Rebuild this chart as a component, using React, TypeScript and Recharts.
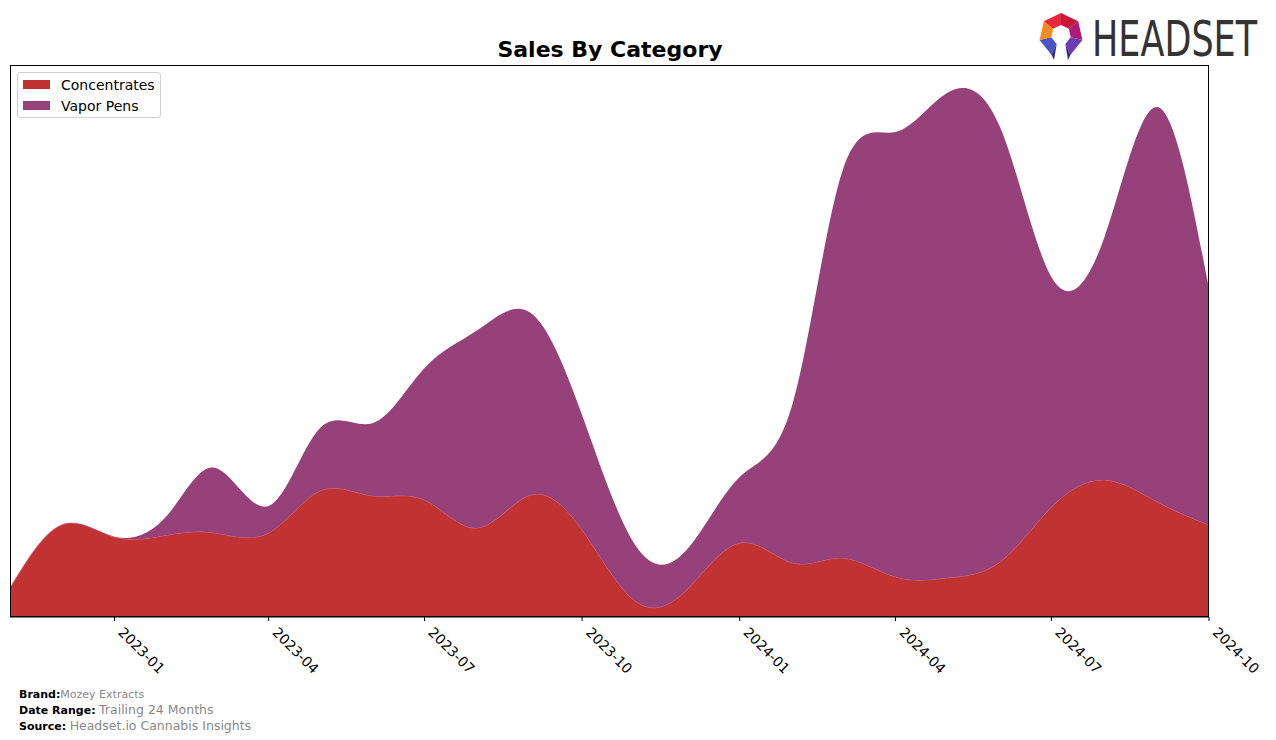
import React from 'react';
import { AreaChart, Area, XAxis, YAxis, Legend } from 'recharts';

const months = [
  '2022-11', '2022-12', '2023-01', '2023-02', '2023-03', '2023-04',
  '2023-05', '2023-06', '2023-07', '2023-08', '2023-09', '2023-10',
  '2023-11', '2023-12', '2024-01', '2024-02', '2024-03', '2024-04',
  '2024-05', '2024-06', '2024-07', '2024-08', '2024-09', '2024-10',
];

const concentrates = [
  7250, 23000, 20000, 20500, 21000, 21000,
  31500, 30250, 29250, 22250, 30500, 21750,
  4000, 6750, 18500, 13500, 14750, 10000,
  9750, 13750, 27500, 34250, 28750, 23000,
];

const vaporPens = [
  0, 0, 0, 5000, 16250, 6750,
  15750, 18250, 33000, 49500, 45500, 28750,
  14000, 10000, 16500, 40000, 96750, 111250,
  121250, 108750, 57500, 60750, 98750, 59000,
];

const tickLabels = ['2023-01', '2023-04', '2023-07', '2023-10', '2024-01', '2024-04', '2024-07', '2024-10'];

const toTs = (m: string) => Date.UTC(+m.slice(0, 4), +m.slice(5, 7) - 1, 1);
const fmt = (t: number) => {
  const d = new Date(t);
  return `${d.getUTCFullYear()}-${String(d.getUTCMonth() + 1).padStart(2, '0')}`;
};

const data = months.map((m, i) => ({
  t: toTs(m),
  Concentrates: concentrates[i],
  'Vapor Pens': vaporPens[i],
}));

const COLORS: Record<string, string> = {
  Concentrates: '#C03332',
  'Vapor Pens': '#96417A',
};

const FONT = '"DejaVu Sans", sans-serif';

const Tick = (props: any) => {
  const { x, y, payload } = props;
  return (
    <g transform={`translate(${x + 10},${y + 3})`}>
      <text
        transform="rotate(45)"
        x={0}
        y={0}
        dy="0.72em"
        textAnchor="start"
        fontSize={14}
        fontFamily={FONT}
        fill="#000"
      >
        {fmt(payload.value)}
      </text>
    </g>
  );
};

const LegendContent = (props: any) => {
  const { payload } = props;
  return (
    <div
      style={{
        border: '1px solid #d0d0d0',
        borderRadius: 3,
        background: '#fff',
        padding: '1px 5px 1px 5px',
        fontFamily: FONT,
        fontSize: 14,
        color: '#000',
      }}
    >
      {(payload || []).map((p: any) => (
        <div key={p.value} style={{ display: 'flex', alignItems: 'center', height: 21 }}>
          <span
            style={{
              display: 'inline-block',
              width: 27,
              height: 9,
              background: COLORS[p.value] || p.color,
              marginRight: 11,
            }}
          />
          <span>{p.value}</span>
        </div>
      ))}
    </div>
  );
};

const Logo = () => {
  const cx = 1061;
  const cy = 35;
  const R = 22;
  const r = 10;
  const pt = (k: number, rad: number) => {
    const a = (-90 + (k * 360) / 7) * (Math.PI / 180);
    return [cx + rad * Math.cos(a), cy + rad * Math.sin(a)];
  };
  const seg = (k: number) => {
    const a = pt(k, R);
    const b = pt(k + 1, R);
    const c = pt(k + 1, r);
    const d = pt(k, r);
    return [a, b, c, d].map((p) => p.join(',')).join(' ');
  };
  const segColors: Record<number, string> = {
    0: '#C8173A',
    1: '#B0187A',
    2: '#6A3DB0',
    4: '#4B55C4',
    5: '#F28A22',
    6: '#E5283A',
  };
  const b3o = pt(3, R);
  const b3i = pt(3, r);
  const b4o = pt(4, R);
  const b4i = pt(4, r);
  return (
    <svg width={1276} height={80} style={{ position: 'absolute', left: 0, top: 0 }}>
      {Object.keys(segColors).map((k) => (
        <polygon key={k} points={seg(+k)} fill={segColors[+k]} />
      ))}
      <polygon
        points={`${b3o.join(',')} ${b3i.join(',')} ${(b3o[0] + b3i[0]) / 2},60`}
        fill="#2E2F8A"
      />
      <polygon
        points={`${b4o.join(',')} ${b4i.join(',')} ${(b4o[0] + b4i[0]) / 2},60`}
        fill="#2E2F8A"
      />
      <text
        transform="translate(1092,56) scale(0.715,1)"
        x={0}
        y={0}
        fontSize={49}
        fontFamily={FONT}
        fill="#333333"
      >
        HEADSET
      </text>
    </svg>
  );
};

export default function App() {
  const t0 = toTs(months[0]);
  const t1 = toTs(months[months.length - 1]);
  return (
    <div
      style={{
        position: 'absolute',
        left: 0,
        top: 0,
        width: 1276,
        height: 740,
        background: '#fff',
        fontFamily: FONT,
      }}
    >
      <div
        style={{
          position: 'absolute',
          left: 0,
          width: 1220,
          top: 37,
          textAlign: 'center',
          fontWeight: 'bold',
          fontSize: 22,
          lineHeight: '26px',
          color: '#000',
        }}
      >
        Sales By Category
      </div>
      <Logo />
      <div style={{ position: 'absolute', left: 0, top: 0 }}>
        <AreaChart
          width={1276}
          height={740}
          data={data}
          margin={{ top: 65, right: 67, bottom: 63, left: 10 }}
        >
          <XAxis
            dataKey="t"
            type="number"
            scale="linear"
            domain={[t0, t1]}
            ticks={tickLabels.map(toTs)}
            tick={<Tick />}
            tickSize={4}
            tickLine={{ stroke: '#000' }}
            axisLine={{ stroke: '#000' }}
            height={60}
            interval={0}
            allowDataOverflow
          />
          <YAxis hide domain={[0, 138000]} allowDataOverflow />
          <Legend
            layout="vertical"
            align="center"
            verticalAlign="middle"
            content={<LegendContent />}
            wrapperStyle={{ left: 17, top: 72, width: 'auto', height: 'auto' }}
          />
          <Area
            type="natural"
            dataKey="Concentrates"
            stackId="1"
            stroke="#D26A70"
            strokeWidth={0.8}
            fill={COLORS.Concentrates}
            fillOpacity={1}
            isAnimationActive={false}
            dot={false}
            activeDot={false}
          />
          <Area
            type="natural"
            dataKey="Vapor Pens"
            stackId="1"
            stroke="none"
            fill={COLORS['Vapor Pens']}
            fillOpacity={1}
            isAnimationActive={false}
            dot={false}
            activeDot={false}
          />
        </AreaChart>
      </div>
      <div
        style={{
          position: 'absolute',
          left: 10,
          top: 65,
          width: 1199,
          height: 552,
          border: '1px solid #000',
          boxSizing: 'border-box',
          pointerEvents: 'none',
        }}
      />
      <div style={{ position: 'absolute', left: 19, top: 687, fontSize: 11, lineHeight: '15px', color: '#000' }}>
        <div>
          <b>Brand:</b>
          <span style={{ color: '#888' }}>Mozey Extracts</span>
        </div>
        <div>
          <b>Date Range:</b> <span style={{ color: '#888', fontSize: 12.5 }}>Trailing 24 Months</span>
        </div>
        <div>
          <b>Source:</b> <span style={{ color: '#888', fontSize: 12.5 }}>Headset.io Cannabis Insights</span>
        </div>
      </div>
    </div>
  );
}
